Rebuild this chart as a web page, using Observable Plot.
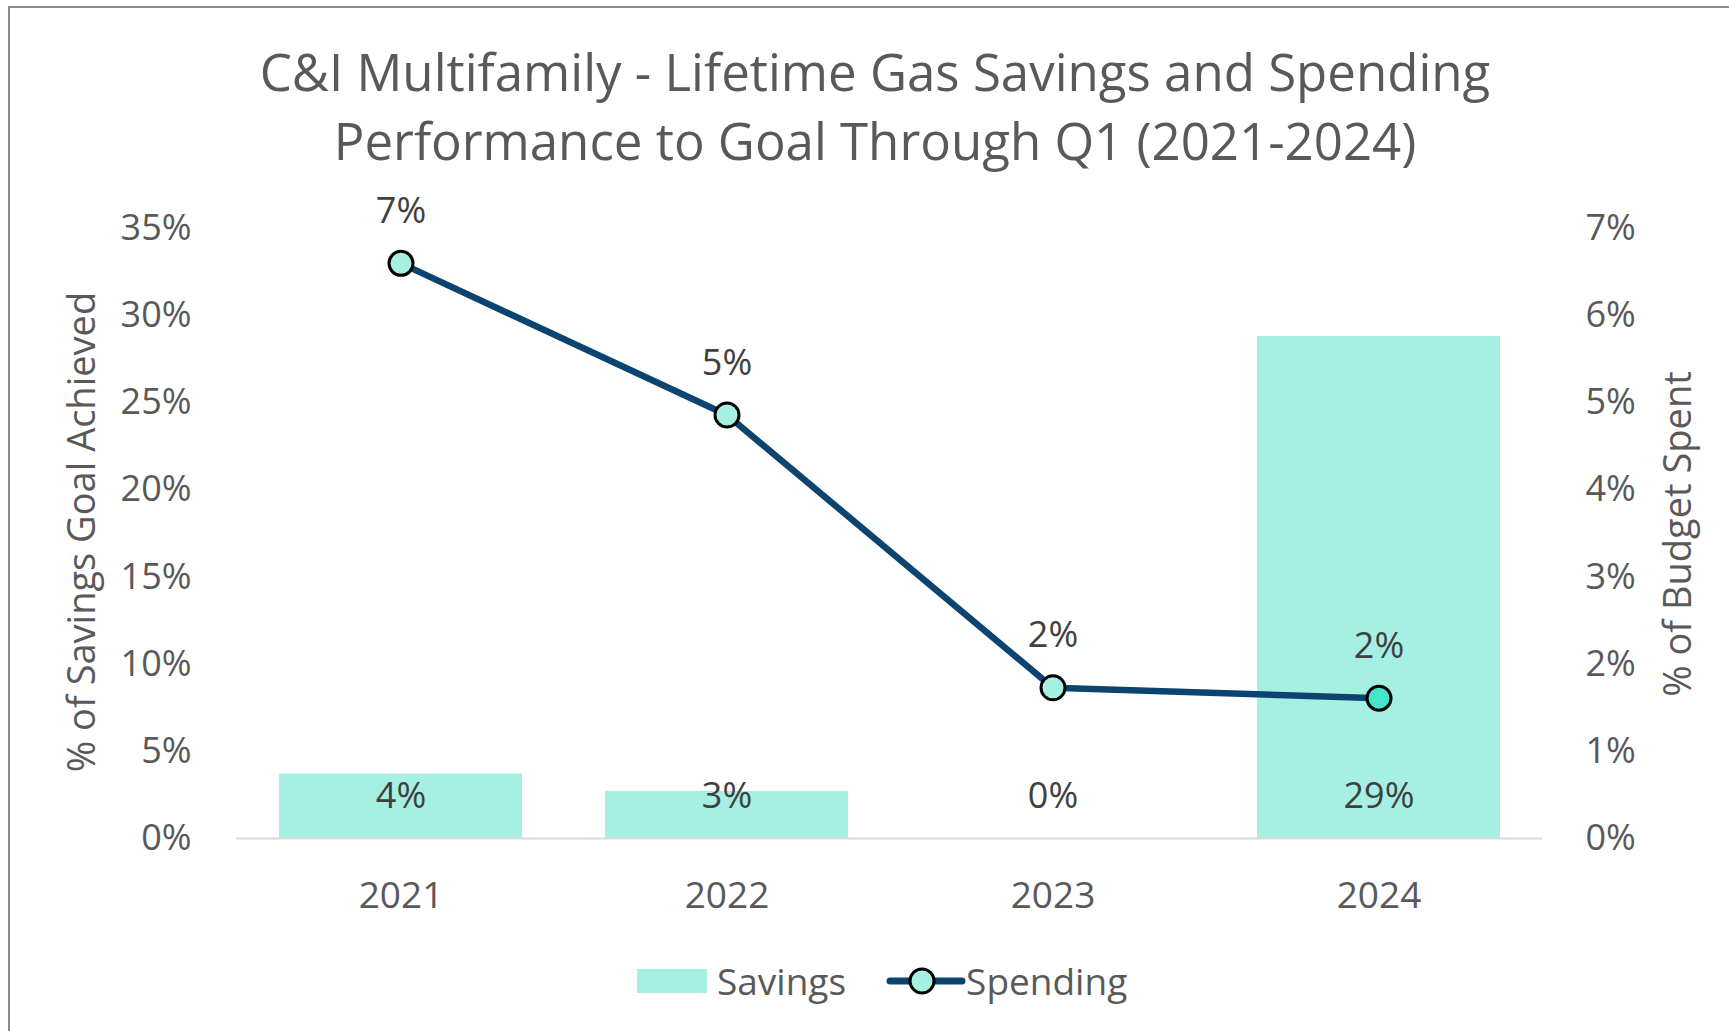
<!DOCTYPE html>
<html>
<head>
<meta charset="utf-8">
<script src="https://cdn.jsdelivr.net/npm/d3@7"></script>
<script src="https://cdn.jsdelivr.net/npm/@observablehq/plot@0.6"></script>
<style>
  html, body { margin: 0; padding: 0; background: #fff; }
  body { width: 1729px; height: 1031px; overflow: hidden; font-family: "Open Sans", sans-serif; color: #595959; }
  #frame { position: absolute; left: 8px; top: 6px; width: 1740px; height: 1040px; border-left: 2px solid #8c8c8c; border-top: 2px solid #8c8c8c; }
  #title { position: absolute; left: 0; width: 1750px; top: 37px; text-align: center; font-size: 51px; line-height: 69px; color: #595959; }
  #chart { position: absolute; left: 0; top: 150px; }
  .ylab { position: absolute; font-size: 38px; white-space: nowrap; transform: translate(-50%, -50%) rotate(-90deg); color: #595959; }
  #legend { position: absolute; left: 637px; top: 955px; display: flex; align-items: center; font-size: 37px; color: #595959; }
  .sw { width: 70px; height: 24px; background: #a5f0e3; margin-right: 10px; }
</style>
</head>
<body>
<div id="frame"></div>
<div id="title">C&amp;I Multifamily - Lifetime Gas Savings and Spending<br>Performance to Goal Through Q1 (2021-2024)</div>
<div id="chart"></div>
<div class="ylab" style="left:80px; top:532px;">% of Savings Goal Achieved</div>
<div class="ylab" style="left:1676px; top:534px;">% of Budget Spent</div>
<div id="legend">
  <div class="sw"></div><span>Savings</span>
  <svg width="80" height="34" style="margin-left:40px;">
    <line x1="4" y1="17" x2="76" y2="17" stroke="#0b4470" stroke-width="7" stroke-linecap="round"></line>
    <circle cx="36" cy="17" r="12" fill="#a5f0e3" stroke="#000" stroke-width="3"></circle>
  </svg><span>Spending</span>
</div>
<script>
const years = ["2021", "2022", "2023", "2024"];
const savings = [0.037, 0.027, 0.0, 0.288];
const spending = [0.066, 0.0486, 0.0173, 0.0161];
const savingsTicks = [0, 0.05, 0.10, 0.15, 0.20, 0.25, 0.30, 0.35];
const spendingTicks = [0, 0.01, 0.02, 0.03, 0.04, 0.05, 0.06, 0.07];

const ratio = 0.35 / 0.07; // right axis (0–7%) mapped onto left axis (0–35%)
const data = years.map((y, i) => ({year: y, savings: savings[i], spending: spending[i], idx: i}));
const pct = d3.format(".0%");

const chart = Plot.plot({
  width: 1729,
  height: 778,
  marginLeft: 236,
  marginRight: 187,
  marginTop: 78,
  marginBottom: 90,
  style: {fontFamily: "Open Sans, sans-serif", fontSize: "36px", color: "#595959", background: "transparent", overflow: "visible"},
  x: {domain: years, paddingInner: 0.256, paddingOuter: 0.128},
  y: {domain: [0, 0.35]},
  marks: [
    Plot.barY(data, {x: "year", y: "savings", fill: "#a5f0e3"}),
    Plot.ruleY([0], {stroke: "#d9d9d9", strokeWidth: 2}),
    Plot.axisX({tickSize: 0, tickPadding: 43, label: null, fontSize: 37, fill: "#595959"}),
    Plot.axisY({anchor: "left", ticks: savingsTicks, tickFormat: pct, tickSize: 0, tickPadding: 45, label: null, fontSize: 36, fill: "#595959"}),
    Plot.axisY({anchor: "right", ticks: spendingTicks.map(v => v * ratio), tickFormat: d => pct(d / ratio), tickSize: 0, tickPadding: 43, label: null, fontSize: 36, fill: "#595959", textAnchor: "start"}),
    Plot.text(data, {x: "year", y: 0, text: d => pct(d.savings), dy: -42, fontSize: 36, fill: "#404040"}),
    Plot.line(data, {x: "year", y: d => d.spending * ratio, stroke: "#0b4470", strokeWidth: 6.5}),
    Plot.dot(data, {x: "year", y: d => d.spending * ratio, r: 12, fill: d => d.idx === 3 ? "#44e5cb" : "#a5f0e3", stroke: "#000", strokeWidth: 3}),
    Plot.text(data, {x: "year", y: d => d.spending * ratio, text: d => pct(d.spending), dy: -52, fontSize: 36, fill: "#404040"})
  ]
});
document.getElementById("chart").appendChild(chart);
</script>
</body>
</html>
